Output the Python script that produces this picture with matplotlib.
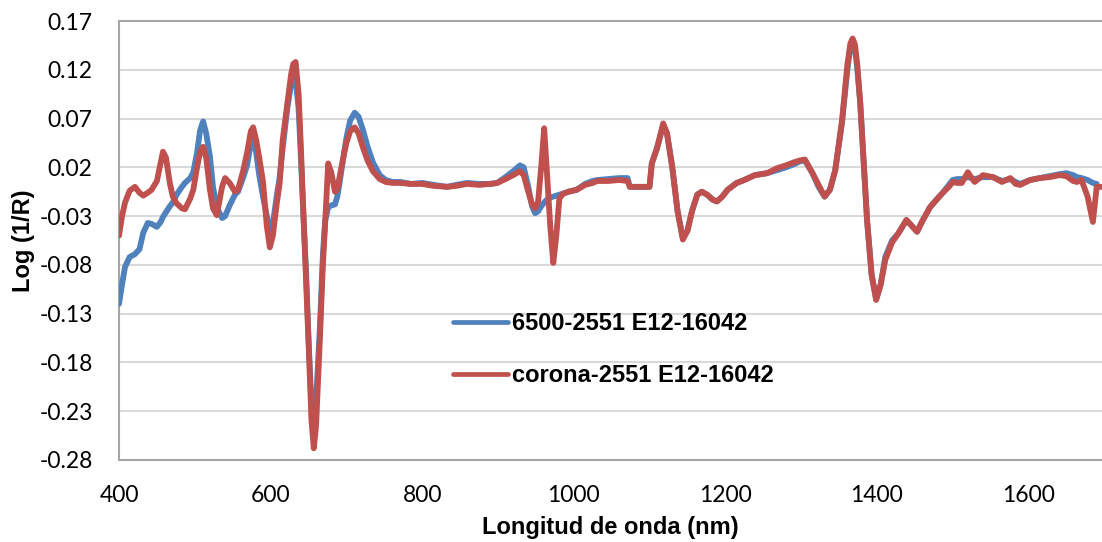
import numpy as np
import matplotlib
matplotlib.use("Agg")
import matplotlib.pyplot as plt

# Wavelength grid (nm) and the two log(1/R) spectra
wavelength = [
    400, 404, 408, 414, 421, 427, 432, 438, 443, 450, 455, 458, 462, 467, 471,
    476, 483, 487, 494, 498, 503, 507, 511, 515, 520, 524, 529, 536, 540, 546,
    553, 557, 564, 569, 574, 577, 581, 585, 590, 595, 599, 603, 608, 612, 616,
    622, 627, 630, 633, 637, 640, 643, 647, 650, 654, 657, 660, 665, 669, 672,
    676, 680, 685, 688, 691, 696, 700, 705, 711, 716, 722, 728, 735, 744, 752,
    761, 771, 785, 800, 815, 833, 845, 859, 875, 890, 899, 910, 920, 929, 934,
    940, 945, 949, 953, 957, 961, 965, 969, 973, 977, 981, 986, 993, 1004, 1015,
    1025, 1031, 1045, 1060, 1071, 1074, 1085, 1100, 1103, 1110, 1118, 1123, 1130,
    1137, 1144, 1150, 1156, 1163, 1169, 1176, 1183, 1189, 1196, 1203, 1215, 1225,
    1239, 1255, 1268, 1280, 1290, 1298, 1305, 1315, 1323, 1331, 1338, 1345, 1354,
    1361, 1365, 1368, 1371, 1374, 1378, 1383, 1387, 1393, 1399, 1405, 1411, 1420,
    1428, 1439, 1446, 1453, 1460, 1470, 1480, 1487, 1495, 1500, 1506, 1512, 1520,
    1525, 1529, 1540, 1553, 1565, 1576, 1583, 1589, 1602, 1615, 1628, 1641, 1650,
    1659, 1664, 1670, 1678, 1685, 1690, 1697,
]

serie_6500 = [
    -0.120, -0.100, -0.082, -0.072, -0.069, -0.064, -0.047, -0.037, -0.038, -0.041,
    -0.036, -0.031, -0.026, -0.020, -0.016, -0.008, 0.000, 0.004, 0.009, 0.015,
    0.035, 0.058, 0.067, 0.055, 0.031, 0.000, -0.021, -0.032, -0.030, -0.019,
    -0.008, -0.005, 0.010, 0.022, 0.045, 0.048, 0.035, 0.012, -0.010, -0.030,
    -0.044, -0.038, -0.010, 0.010, 0.040, 0.080, 0.105, 0.113, 0.110, 0.080,
    0.030, -0.025, -0.090, -0.155, -0.225, -0.245, -0.220, -0.145, -0.070, -0.035,
    -0.021, -0.019, -0.018, -0.010, 0.004, 0.030, 0.050, 0.068, 0.076, 0.072,
    0.058, 0.041, 0.025, 0.012, 0.007, 0.005, 0.005, 0.003, 0.004, 0.002,
    0.000, 0.002, 0.004, 0.003, 0.003, 0.004, 0.010, 0.016, 0.022, 0.020,
    0.000, -0.020, -0.027, -0.025, -0.020, -0.016, -0.013, -0.011, -0.010, -0.009,
    -0.008, -0.007, -0.005, -0.003, 0.003, 0.006, 0.007, 0.008, 0.009, 0.009,
    0.000, 0.000, 0.000, 0.024, 0.040, 0.063, 0.055, 0.020, -0.025, -0.053,
    -0.045, -0.025, -0.008, -0.005, -0.008, -0.013, -0.015, -0.010, -0.003, 0.004,
    0.007, 0.012, 0.014, 0.017, 0.020, 0.023, 0.026, 0.027, 0.014, 0.000,
    -0.010, -0.003, 0.017, 0.066, 0.120, 0.143, 0.149, 0.142, 0.122, 0.086,
    0.020, -0.034, -0.090, -0.115, -0.100, -0.072, -0.055, -0.048, -0.034, -0.040,
    -0.046, -0.035, -0.021, -0.012, -0.006, 0.002, 0.007, 0.008, 0.008, 0.010,
    0.009, 0.008, 0.010, 0.010, 0.006, 0.008, 0.005, 0.003, 0.007, 0.009,
    0.011, 0.013, 0.014, 0.012, 0.010, 0.009, 0.007, 0.004, 0.003, np.nan,
]

serie_corona = [
    -0.050, -0.030, -0.016, -0.004, 0.000, -0.006, -0.009, -0.006, -0.003, 0.006,
    0.025, 0.036, 0.030, 0.004, -0.010, -0.017, -0.022, -0.023, -0.012, -0.003,
    0.020, 0.036, 0.041, 0.030, -0.003, -0.022, -0.029, 0.000, 0.009, 0.004,
    -0.005, -0.003, 0.017, 0.035, 0.057, 0.061, 0.048, 0.030, 0.005, -0.040,
    -0.062, -0.050, -0.018, 0.004, 0.048, 0.085, 0.115, 0.126, 0.128, 0.095,
    0.040, -0.021, -0.100, -0.157, -0.240, -0.268, -0.245, -0.157, -0.080, -0.037,
    0.024, 0.015, -0.005, -0.003, 0.010, 0.030, 0.045, 0.057, 0.061, 0.055,
    0.040, 0.027, 0.016, 0.008, 0.005, 0.004, 0.004, 0.003, 0.003, 0.001,
    0.000, 0.001, 0.003, 0.002, 0.003, 0.004, 0.008, 0.012, 0.016, 0.012,
    -0.005, -0.018, -0.022, -0.015, 0.020, 0.060, 0.010, -0.040, -0.078, -0.050,
    -0.012, -0.007, -0.005, -0.003, 0.002, 0.004, 0.006, 0.006, 0.007, 0.006,
    0.000, 0.000, 0.000, 0.024, 0.040, 0.065, 0.055, 0.020, -0.025, -0.054,
    -0.045, -0.025, -0.008, -0.005, -0.008, -0.013, -0.015, -0.010, -0.003, 0.004,
    0.007, 0.012, 0.014, 0.019, 0.022, 0.025, 0.027, 0.028, 0.014, 0.002,
    -0.010, -0.003, 0.017, 0.068, 0.125, 0.147, 0.152, 0.146, 0.126, 0.086,
    0.020, -0.034, -0.090, -0.116, -0.100, -0.075, -0.057, -0.048, -0.034, -0.040,
    -0.046, -0.035, -0.021, -0.012, -0.006, 0.000, 0.005, 0.004, 0.004, 0.015,
    0.009, 0.005, 0.012, 0.010, 0.005, 0.009, 0.003, 0.002, 0.007, 0.009,
    0.010, 0.012, 0.011, 0.006, 0.005, 0.007, -0.010, -0.036, 0.000, 0.000,
]

series_labels = ["6500-2551 E12-16042", "corona-2551 E12-16042"]
series_colors = ["#4F81BD", "#C0504D"]

y_ticks = [-0.28, -0.23, -0.18, -0.13, -0.08, -0.03, 0.02, 0.07, 0.12, 0.17]
x_ticks = [400, 600, 800, 1000, 1200, 1400, 1600]

W, H = 1102, 542
fig = plt.figure(figsize=(W / 100, H / 100), dpi=100)
ax = fig.add_axes([119 / W, (H - 460) / H, 983 / W, 439 / H])

for values, label, color in zip([serie_6500, serie_corona], series_labels, series_colors):
    ax.plot(wavelength, values, color=color, lw=4.2, label=label,
            solid_capstyle="round", solid_joinstyle="round", zorder=3)

ax.set_xlim(400, 1697)
ax.set_ylim(-0.28, 0.17)
ax.set_xticks(x_ticks)
ax.set_yticks(y_ticks)
ax.set_yticklabels([f"{v:.2f}" for v in y_ticks])
ax.tick_params(axis="both", length=0, labelsize=16.5, colors="black")
ax.tick_params(axis="y", pad=19)
ax.tick_params(axis="x", pad=18)
for lab in ax.get_xticklabels() + ax.get_yticklabels():
    lab.set_fontfamily("Lato")

ax.grid(axis="y", color="#D9D9D9", lw=1.5, zorder=0)
for side in ["left", "bottom", "top"]:
    ax.spines[side].set_color("#A6A6A6")
    ax.spines[side].set_linewidth(1.5)
ax.spines["right"].set_visible(False)

label_font = dict(family="Liberation Sans", weight="bold", size=17)
ax.set_xlabel("Longitud de onda (nm)", **label_font)
ax.xaxis.set_label_coords(0.5, -0.153)
ax.xaxis.label.set_va("center")
ax.set_ylabel("Log (1/R)", **label_font)
ax.yaxis.set_label_coords(-0.097, 0.5)
ax.yaxis.label.set_va("center")

leg = ax.legend(loc="upper left", bbox_to_anchor=(0.340, 0.336), frameon=False,
                prop=dict(family="Liberation Sans", weight="bold", size=17),
                handlelength=2.3, handletextpad=0.2, labelspacing=1.2,
                borderpad=0, borderaxespad=0)
for line in leg.get_lines():
    line.set_linewidth(3.4)

fig.savefig("out.png", dpi=100)
